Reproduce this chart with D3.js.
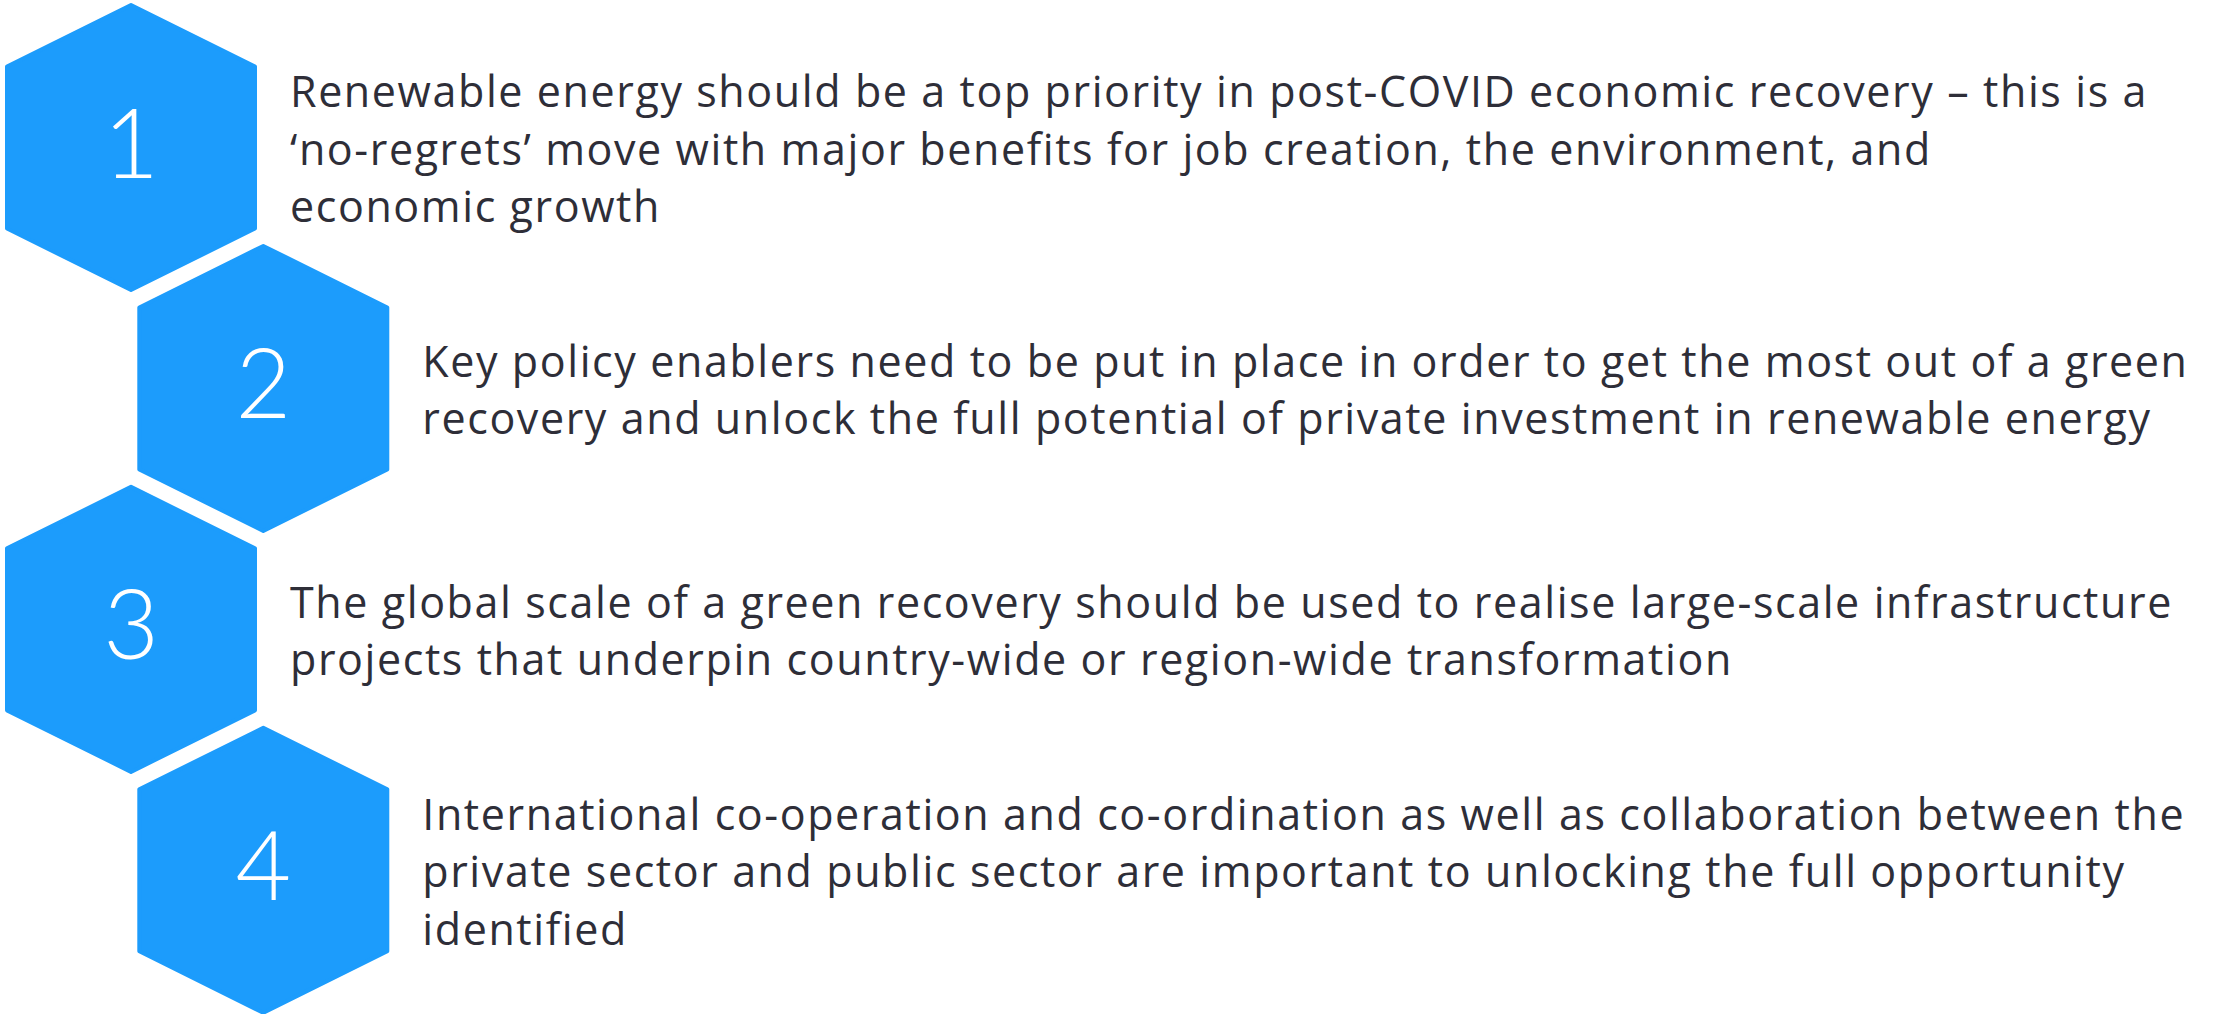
<!DOCTYPE html>
<html>
<head>
<meta charset="utf-8">
<script src="https://cdn.jsdelivr.net/npm/d3@7"></script>
<style>
  html, body { margin: 0; padding: 0; background: #ffffff; }
  svg { display: block; }
</style>
</head>
<body>
<svg id="chart" width="2215" height="1014"></svg>
<script>
// ---- data ----
const stepNumbers = ["1", "2", "3", "4"];
const stepColumns = [0, 1, 0, 1];
const stepLines = [
  ["Renewable energy should be a top priority in post-COVID economic recovery \u2013 this is a",
   "\u2018no-regrets\u2019 move with major benefits for job creation, the environment, and",
   "economic growth"],
  ["Key policy enablers need to be put in place in order to get the most out of a green",
   "recovery and unlock the full potential of private investment in renewable energy"],
  ["The global scale of a green recovery should be used to realise large-scale infrastructure",
   "projects that underpin country-wide or region-wide transformation"],
  ["International co-operation and co-ordination as well as collaboration between the",
   "private sector and public sector are important to unlocking the full opportunity",
   "identified"]
];

// ---- layout ----
const svg = d3.select("#chart");
const blue = "#1c9cfc";
const textColor = "#2e2e38";

const y = d3.scalePoint().domain(stepNumbers).range([147.5, 870.3]);
const x = d3.scaleOrdinal().domain([0, 1]).range([131, 263.3]);

const hw = 124, hh = 142.5, cy = 81;   // hexagon half-width, half-height, corner offset
function hexPoints() {
  return [[0, -hh], [hw, -cy], [hw, cy], [0, hh], [-hw, cy], [-hw, -cy]];
}

const items = stepNumbers.map((n, i) => ({ n, col: stepColumns[i], lines: stepLines[i] }));

const g = svg.selectAll("g.step").data(items).join("g")
  .attr("class", "step")
  .attr("transform", d => `translate(${x(d.col)},${y(d.n)})`);

g.append("path")
  .attr("d", d3.line()(hexPoints()) + "Z")
  .attr("fill", blue)
  .attr("stroke", blue)
  .attr("stroke-width", 4)
  .attr("stroke-linejoin", "round");

g.append("text")
  .attr("x", 0)
  .attr("y", 30)
  .attr("text-anchor", "middle")
  .attr("font-family", "Lato, 'Open Sans', sans-serif")
  .attr("font-weight", 300)
  .attr("font-size", 96)
  .attr("fill", "#ffffff")
  .text(d => d.n);

const lineH = 57.3;
const txt = g.append("text")
  .attr("font-family", "'Open Sans', 'Noto Sans', sans-serif")
  .attr("font-size", 43)
  .attr("fill", textColor);

txt.selectAll("tspan").data(d => d.lines.map((s, k) => ({ s, k, n: d.lines.length })))
  .join("tspan")
  .attr("x", hw + 35)
  .attr("y", t => 17 - (t.n - 1) * lineH / 2 + t.k * lineH)
  .text(t => t.s);

// fit text width so the longest first line spans like the reference
const firstLine = txt.filter((d, i) => i === 0).select("tspan").node();
const measured = firstLine.getComputedTextLength();
const target = 1858;
const chars = stepLines[0][0].length;
const ls = (target - measured) / chars;
txt.attr("letter-spacing", ls.toFixed(3));
</script>
</body>
</html>
